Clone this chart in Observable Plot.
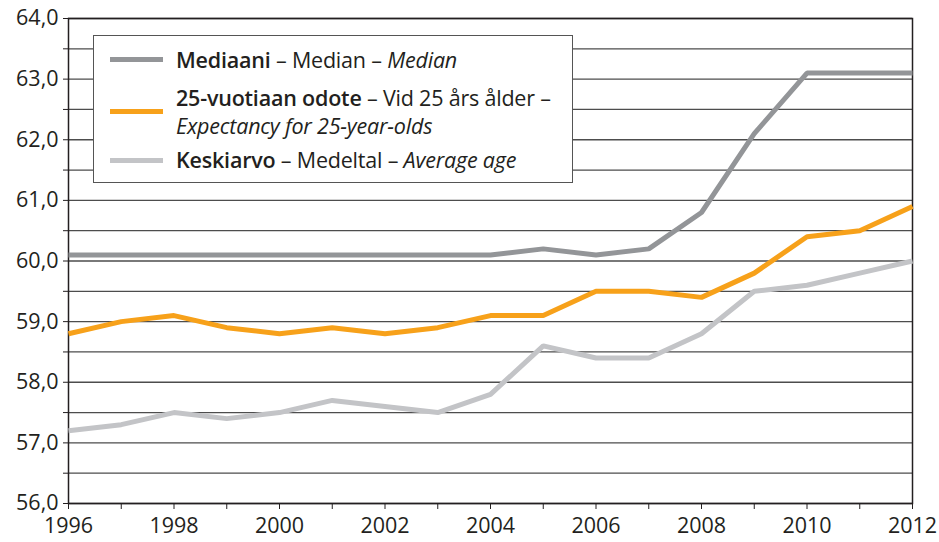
<!DOCTYPE html>
<html>
<head>
<meta charset="utf-8">
<script src="https://cdn.jsdelivr.net/npm/d3@7"></script>
<script src="https://cdn.jsdelivr.net/npm/@observablehq/plot@0.6"></script>
<style>
  html, body { margin: 0; padding: 0; background: #fff; }
  #wrap { position: relative; width: 939px; height: 542px; font-family: "Open Sans", sans-serif; }
  #legend {
    position: absolute; left: 93px; top: 35px; width: 478px; height: 146px;
    background: #fff; border: 1.5px solid #555; box-sizing: content-box;
    color: #231f20; font-size: 21.5px;
  }
  .sw { position: absolute; left: 16px; width: 53px; height: 5px; }
  .tx { position: absolute; left: 82px; white-space: nowrap; line-height: 26px; letter-spacing: -0.2px; }
  b { font-weight: 600; }
</style>
</head>
<body>
<div id="wrap"></div>
<script>
const years = d3.range(1996, 2013);
const median = [60.1,60.1,60.1,60.1,60.1,60.1,60.1,60.1,60.1,60.2,60.1,60.2,60.8,62.1,63.1,63.1,63.1];
const expectancy25 = [58.8,59.0,59.1,58.9,58.8,58.9,58.8,58.9,59.1,59.1,59.5,59.5,59.4,59.8,60.4,60.5,60.9];
const average = [57.2,57.3,57.5,57.4,57.5,57.7,57.6,57.5,57.8,58.6,58.4,58.4,58.8,59.5,59.6,59.8,60.0];
const seriesNames = ["Mediaani", "25-vuotiaan odote", "Keskiarvo"];
const seriesColors = ["#939598", "#f7a11a", "#c3c4c7"];
const yTicks = d3.range(56, 64.001, 0.5);

const rows = [];
[median, expectancy25, average].forEach((arr, i) => {
  arr.forEach((v, j) => rows.push({series: seriesNames[i], year: years[j], value: v}));
});

const fmtY = d => Number.isInteger(d) ? d.toFixed(1).replace(".", ",") : "";
const fmtX = d => d % 2 === 0 ? String(d) : "";

const chart = Plot.plot({
  width: 939,
  height: 542,
  marginLeft: 68,
  marginRight: 27,
  marginTop: 18,
  marginBottom: 39,
  style: {fontFamily: "Open Sans, sans-serif", fontSize: "21.5px", color: "#231f20", background: "#fff", overflow: "visible"},
  x: {domain: [1996, 2012]},
  y: {domain: [56, 64]},
  color: {domain: seriesNames, range: seriesColors},
  marks: [
    Plot.gridY(yTicks, {stroke: "#4d4d4d", strokeOpacity: 1, strokeWidth: 1.3}),
    Plot.frame({stroke: "#231f20", strokeWidth: 1.5}),
    Plot.axisY(yTicks, {tickFormat: fmtY, tickSize: 5, tickPadding: 5, label: null, stroke: "#231f20", fontSize: 21.5}),
    Plot.axisX(years, {tickFormat: fmtX, tickSize: 6, tickPadding: 8, label: null, stroke: "#231f20", fontSize: 21.5}),
    Plot.line(rows, {x: "year", y: "value", z: "series", stroke: "series", strokeWidth: 5, strokeLinejoin: "miter", strokeLinecap: "butt"})
  ]
});
const wrap = document.getElementById("wrap");
wrap.appendChild(chart);

const legendItems = [
  {color: seriesColors[0], lineY: 21, html: '<div class="tx" style="top:11px"><b>Mediaani</b> – Median – <i>Median</i></div>'},
  {color: seriesColors[1], lineY: 73, html: '<div class="tx" style="top:49px"><b>25-vuotiaan odote</b> – Vid 25 års ålder –</div><div class="tx" style="top:77px"><i>Expectancy for 25-year-olds</i></div>'},
  {color: seriesColors[2], lineY: 122, html: '<div class="tx" style="top:111px"><b>Keskiarvo</b> – Medeltal – <i>Average age</i></div>'}
];
const legend = document.createElement("div");
legend.id = "legend";
legend.innerHTML = legendItems.map(it => `<div class="sw" style="top:${it.lineY}px;background:${it.color}"></div>${it.html}`).join("");
wrap.appendChild(legend);
</script>
</body>
</html>
